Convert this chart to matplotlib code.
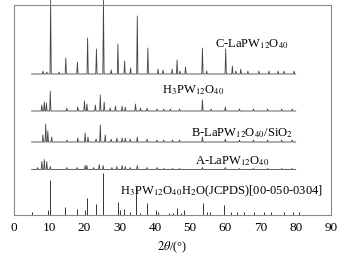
import matplotlib.pyplot as plt

plt.rcParams['font.family'] = 'Liberation Serif'
plt.rcParams['mathtext.fontset'] = 'stix'

# peak positions (2theta) and heights (px above baseline)
c_pos = [8.2, 9.3, 10.4, 12.8, 14.7, 18.0, 20.9, 23.4, 25.4, 27.6, 29.5, 31.4, 33.1,
         35.0, 38.0, 40.9, 42.3, 44.9, 46.3, 47.1, 48.7, 53.5, 54.7, 60.1, 62.0,
         63.0, 64.4, 66.4, 69.5, 72.4, 75.0, 76.7, 79.5]
c_h = [3, 2, 74, 2, 16, 12, 36, 25, 74, 4, 30, 13, 6,
       58, 26, 5, 4, 5, 14, 3, 7, 26, 3, 25, 8,
       3, 5, 3, 3, 3, 3, 3, 3]

h_pos = [7.9, 8.6, 9.2, 10.3, 15.0, 18.1, 20.0, 20.7, 23.1, 24.5, 25.6, 27.3, 28.8,
         30.7, 31.6, 34.5, 35.9, 37.8, 40.6, 42.5, 44.4, 47.0, 53.5, 56.0, 60.0,
         64.0, 68.0, 72.0, 76.0, 79.0]
h_h = [6, 9, 8, 20, 3, 4, 10, 7, 6, 16, 9, 3, 5,
       5, 4, 7, 3, 3, 2, 2, 2, 2, 11, 2, 4,
       2, 2, 2, 2, 2]

b_pos = [8.2, 9.0, 9.6, 10.7, 15.0, 18.1, 20.2, 21.0, 23.3, 24.5, 25.9, 27.6, 29.2,
         30.7, 31.6, 33.0, 35.0, 37.8, 40.6, 42.5, 45.0, 47.0, 53.5, 60.0, 64.0,
         68.0, 72.0, 76.0, 79.0]
b_h = [7, 18, 11, 5, 2, 4, 9, 5, 3, 17, 7, 3, 4,
       4, 4, 3, 5, 3, 2, 2, 2, 2, 5, 3, 2,
       2, 2, 2, 2]

a_pos = [6.7, 7.9, 8.6, 9.3, 10.3, 15.0, 17.9, 20.2, 20.7, 22.6, 24.2, 25.3, 27.8,
         29.2, 30.7, 31.6, 33.0, 35.0, 37.8, 40.6, 42.5, 45.0, 47.0, 53.5, 60.0,
         64.0, 68.0, 72.0, 76.0, 79.0]
a_h = [2, 8, 10, 8, 3, 2, 2, 4, 4, 2, 5, 4, 2,
       3, 4, 3, 2, 4, 2, 2, 1, 1, 1, 2, 2,
       1, 1, 1, 1, 1]

ref_pos = [5.0, 9.6, 10.3, 14.6, 18.0, 20.1, 20.8, 23.2, 25.4, 29.4, 30.2, 31.2, 32.9,
           34.6, 35.7, 37.8, 40.2, 41.0, 43.9, 45.2, 46.3, 47.3, 48.4, 53.6, 54.9,
           55.6, 59.6, 61.5, 63.4, 65.3, 68.2, 71.0, 72.9, 76.7, 79.1, 80.9]
ref_h = [3, 5, 35, 8, 6, 5, 17, 11, 42, 13, 5, 6, 3,
         28, 2, 12, 5, 3, 2, 2, 7, 2, 5, 12, 3,
         3, 10, 3, 3, 3, 3, 3, 3, 3, 3, 3]

# vertical offsets of each pattern (px above x axis)
c_base, h_base, b_base, a_base = 141, 104, 73, 45.5


def profile(pos, hts, base, start=5.0, end=80.0, w=0.18):
    xs, ys = [start], [base]
    for p, h in zip(pos, hts):
        xs += [p - w, p, p + w]
        ys += [base, base + h, base]
    xs.append(end)
    ys.append(base)
    return xs, ys


fig = plt.figure(figsize=(3.44, 2.58), dpi=100)
ax = fig.add_axes([14 / 344, 43 / 258, 317 / 344, 210 / 258])

for pos, hts, base in [(c_pos, c_h, c_base), (h_pos, h_h, h_base),
                       (b_pos, b_h, b_base), (a_pos, a_h, a_base)]:
    xs, ys = profile(pos, hts, base)
    ax.plot(xs, ys, color='#444444', lw=0.6, clip_on=False)

ax.vlines(ref_pos, 0, ref_h, color='#333333', lw=0.7)

ax.text(57, 171, r'C-LaPW$_{12}$O$_{40}$', fontsize=9, va='center')
ax.text(42, 125, r'H$_3$PW$_{12}$O$_{40}$', fontsize=9, va='center')
ax.text(50.3, 82, r'B-LaPW$_{12}$O$_{40}$/SiO$_2$', fontsize=9, va='center')
ax.text(51.5, 54, r'A-LaPW$_{12}$O$_{40}$', fontsize=9, va='center')
ax.text(30, 24, r'H$_3$PW$_{12}$O$_{40}$H$_2$O(JCPDS)[00-050-0304]', fontsize=9, va='center')

ax.set_xlim(0, 90)
ax.set_ylim(0, 210)
ax.set_xticks(range(0, 91, 10))
ax.set_yticks([])
ax.tick_params(axis='x', length=0, labelsize=9.5, pad=5)
ax.set_xlabel(r'$2\theta$/(°)', fontsize=9, labelpad=4)
for s in ax.spines.values():
    s.set_color('#888888')
    s.set_linewidth(0.8)

fig.savefig('out.png', dpi=100)
